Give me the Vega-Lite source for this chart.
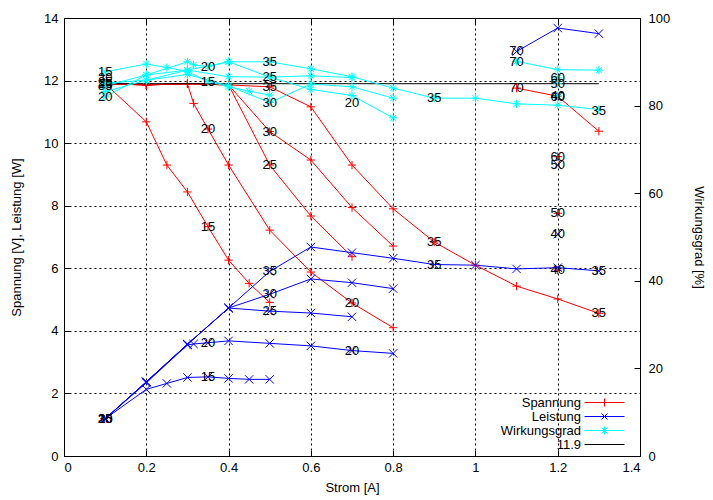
{
"$schema": "https://vega.github.io/schema/vega-lite/v6.json",
"width": 576, "height": 438,
"autosize": "none",
"padding": {"left": 64, "top": 18, "right": 73, "bottom": 44},
"config": {
  "font": "Liberation Sans",
  "view": {"stroke": "black", "strokeWidth": 1},
  "axis": {"labelFont": "Liberation Sans", "labelFontSize": 13, "labelColor": "black", "titleFont": "Liberation Sans", "titleFontSize": 13, "titleFontWeight": "normal", "titleColor": "black", "domain": false, "tickColor": "black", "tickSize": -6, "gridColor": "black", "gridDash": [2, 3], "gridOpacity": 1, "gridWidth": 1}
},
"datasets": {
  "vp": [
    {"s":"Spannung","r":"15","i":0.1,"v":11.9},{"s":"Spannung","r":"15","i":0.2,"v":10.68},{"s":"Spannung","r":"15","i":0.25,"v":9.3},{"s":"Spannung","r":"15","i":0.3,"v":8.44},{"s":"Spannung","r":"15","i":0.35,"v":7.33},{"s":"Spannung","r":"15","i":0.4,"v":6.26},{"s":"Spannung","r":"15","i":0.45,"v":5.52},{"s":"Spannung","r":"15","i":0.5,"v":4.91},
    {"s":"Spannung","r":"20","i":0.1,"v":11.9},{"s":"Spannung","r":"20","i":0.2,"v":11.86},{"s":"Spannung","r":"20","i":0.3,"v":11.9},{"s":"Spannung","r":"20","i":0.315,"v":11.27},{"s":"Spannung","r":"20","i":0.35,"v":10.45},{"s":"Spannung","r":"20","i":0.4,"v":9.3},{"s":"Spannung","r":"20","i":0.5,"v":7.22},{"s":"Spannung","r":"20","i":0.6,"v":5.88},{"s":"Spannung","r":"20","i":0.7,"v":4.89},{"s":"Spannung","r":"20","i":0.8,"v":4.1},
    {"s":"Spannung","r":"25","i":0.1,"v":11.9},{"s":"Spannung","r":"25","i":0.2,"v":11.86},{"s":"Spannung","r":"25","i":0.3,"v":11.9},{"s":"Spannung","r":"25","i":0.4,"v":11.86},{"s":"Spannung","r":"25","i":0.5,"v":9.3},{"s":"Spannung","r":"25","i":0.6,"v":7.67},{"s":"Spannung","r":"25","i":0.7,"v":6.37},
    {"s":"Spannung","r":"30","i":0.1,"v":11.9},{"s":"Spannung","r":"30","i":0.2,"v":11.86},{"s":"Spannung","r":"30","i":0.3,"v":11.9},{"s":"Spannung","r":"30","i":0.4,"v":11.86},{"s":"Spannung","r":"30","i":0.5,"v":10.37},{"s":"Spannung","r":"30","i":0.6,"v":9.46},{"s":"Spannung","r":"30","i":0.7,"v":7.94},{"s":"Spannung","r":"30","i":0.8,"v":6.71},
    {"s":"Spannung","r":"35","i":0.1,"v":11.9},{"s":"Spannung","r":"35","i":0.2,"v":11.86},{"s":"Spannung","r":"35","i":0.3,"v":11.9},{"s":"Spannung","r":"35","i":0.4,"v":11.86},{"s":"Spannung","r":"35","i":0.5,"v":11.8},{"s":"Spannung","r":"35","i":0.6,"v":11.16},{"s":"Spannung","r":"35","i":0.7,"v":9.3},{"s":"Spannung","r":"35","i":0.8,"v":7.9},{"s":"Spannung","r":"35","i":0.9,"v":6.84},{"s":"Spannung","r":"35","i":1.0,"v":6.1},{"s":"Spannung","r":"35","i":1.1,"v":5.43},{"s":"Spannung","r":"35","i":1.2,"v":5.02},{"s":"Spannung","r":"35","i":1.3,"v":4.56},
    {"s":"Spannung","r":"40","i":1.2,"v":5.94},
    {"s":"Spannung","r":"50","i":1.2,"v":7.76},
    {"s":"Spannung","r":"60","i":1.2,"v":9.57},
    {"s":"Spannung","r":"70","i":1.1,"v":11.76},{"s":"Spannung","r":"70","i":1.2,"v":11.5},{"s":"Spannung","r":"70","i":1.3,"v":10.38},
    {"s":"Leistung","r":"15","i":0.1,"v":1.19},{"s":"Leistung","r":"15","i":0.2,"v":2.13},{"s":"Leistung","r":"15","i":0.25,"v":2.32},{"s":"Leistung","r":"15","i":0.3,"v":2.51},{"s":"Leistung","r":"15","i":0.35,"v":2.53},{"s":"Leistung","r":"15","i":0.4,"v":2.48},{"s":"Leistung","r":"15","i":0.45,"v":2.45},{"s":"Leistung","r":"15","i":0.5,"v":2.45},
    {"s":"Leistung","r":"20","i":0.1,"v":1.19},{"s":"Leistung","r":"20","i":0.2,"v":2.34},{"s":"Leistung","r":"20","i":0.3,"v":3.55},{"s":"Leistung","r":"20","i":0.315,"v":3.58},{"s":"Leistung","r":"20","i":0.35,"v":3.62},{"s":"Leistung","r":"20","i":0.4,"v":3.68},{"s":"Leistung","r":"20","i":0.5,"v":3.6},{"s":"Leistung","r":"20","i":0.6,"v":3.52},{"s":"Leistung","r":"20","i":0.7,"v":3.37},{"s":"Leistung","r":"20","i":0.8,"v":3.28},
    {"s":"Leistung","r":"25","i":0.1,"v":1.19},{"s":"Leistung","r":"25","i":0.2,"v":2.37},{"s":"Leistung","r":"25","i":0.3,"v":3.57},{"s":"Leistung","r":"25","i":0.4,"v":4.73},{"s":"Leistung","r":"25","i":0.5,"v":4.63},{"s":"Leistung","r":"25","i":0.6,"v":4.57},{"s":"Leistung","r":"25","i":0.7,"v":4.45},
    {"s":"Leistung","r":"30","i":0.1,"v":1.19},{"s":"Leistung","r":"30","i":0.2,"v":2.37},{"s":"Leistung","r":"30","i":0.3,"v":3.57},{"s":"Leistung","r":"30","i":0.4,"v":4.73},{"s":"Leistung","r":"30","i":0.5,"v":5.17},{"s":"Leistung","r":"30","i":0.6,"v":5.66},{"s":"Leistung","r":"30","i":0.7,"v":5.54},{"s":"Leistung","r":"30","i":0.8,"v":5.35},
    {"s":"Leistung","r":"35","i":0.1,"v":1.19},{"s":"Leistung","r":"35","i":0.2,"v":2.37},{"s":"Leistung","r":"35","i":0.3,"v":3.57},{"s":"Leistung","r":"35","i":0.4,"v":4.73},{"s":"Leistung","r":"35","i":0.5,"v":5.9},{"s":"Leistung","r":"35","i":0.6,"v":6.68},{"s":"Leistung","r":"35","i":0.7,"v":6.5},{"s":"Leistung","r":"35","i":0.8,"v":6.32},{"s":"Leistung","r":"35","i":0.9,"v":6.12},{"s":"Leistung","r":"35","i":1.0,"v":6.1},{"s":"Leistung","r":"35","i":1.1,"v":5.98},{"s":"Leistung","r":"35","i":1.2,"v":6.02},{"s":"Leistung","r":"35","i":1.3,"v":5.92},
    {"s":"Leistung","r":"40","i":1.2,"v":7.09},
    {"s":"Leistung","r":"50","i":1.2,"v":9.3},
    {"s":"Leistung","r":"60","i":1.2,"v":11.48},
    {"s":"Leistung","r":"70","i":1.1,"v":12.93},{"s":"Leistung","r":"70","i":1.2,"v":13.68},{"s":"Leistung","r":"70","i":1.3,"v":13.5}
  ],
  "eff": [
    {"s":"Wirkungsgrad","r":"15","i":0.1,"v":87.7},{"s":"Wirkungsgrad","r":"15","i":0.2,"v":89.5},{"s":"Wirkungsgrad","r":"15","i":0.25,"v":88.7},{"s":"Wirkungsgrad","r":"15","i":0.3,"v":87.8},{"s":"Wirkungsgrad","r":"15","i":0.35,"v":85.5},{"s":"Wirkungsgrad","r":"15","i":0.4,"v":84.3},{"s":"Wirkungsgrad","r":"15","i":0.45,"v":83.3},{"s":"Wirkungsgrad","r":"15","i":0.5,"v":82.4},
    {"s":"Wirkungsgrad","r":"20","i":0.1,"v":82.0},{"s":"Wirkungsgrad","r":"20","i":0.2,"v":87.0},{"s":"Wirkungsgrad","r":"20","i":0.3,"v":90.0},{"s":"Wirkungsgrad","r":"20","i":0.315,"v":89.3},{"s":"Wirkungsgrad","r":"20","i":0.35,"v":88.9},{"s":"Wirkungsgrad","r":"20","i":0.4,"v":90.0},{"s":"Wirkungsgrad","r":"20","i":0.5,"v":86.5},{"s":"Wirkungsgrad","r":"20","i":0.6,"v":83.7},{"s":"Wirkungsgrad","r":"20","i":0.7,"v":82.3},{"s":"Wirkungsgrad","r":"20","i":0.8,"v":77.2},
    {"s":"Wirkungsgrad","r":"25","i":0.1,"v":85.1},{"s":"Wirkungsgrad","r":"25","i":0.2,"v":85.8},{"s":"Wirkungsgrad","r":"25","i":0.3,"v":88.1},{"s":"Wirkungsgrad","r":"25","i":0.4,"v":86.6},{"s":"Wirkungsgrad","r":"25","i":0.5,"v":86.5},{"s":"Wirkungsgrad","r":"25","i":0.6,"v":86.8},{"s":"Wirkungsgrad","r":"25","i":0.7,"v":86.4},
    {"s":"Wirkungsgrad","r":"30","i":0.1,"v":83.2},{"s":"Wirkungsgrad","r":"30","i":0.2,"v":85.8},{"s":"Wirkungsgrad","r":"30","i":0.3,"v":87.1},{"s":"Wirkungsgrad","r":"30","i":0.4,"v":84.5},{"s":"Wirkungsgrad","r":"30","i":0.5,"v":80.7},{"s":"Wirkungsgrad","r":"30","i":0.6,"v":84.9},{"s":"Wirkungsgrad","r":"30","i":0.7,"v":84.3},{"s":"Wirkungsgrad","r":"30","i":0.8,"v":81.7},
    {"s":"Wirkungsgrad","r":"35","i":0.1,"v":84.5},{"s":"Wirkungsgrad","r":"35","i":0.2,"v":87.0},{"s":"Wirkungsgrad","r":"35","i":0.3,"v":88.1},{"s":"Wirkungsgrad","r":"35","i":0.4,"v":90.0},{"s":"Wirkungsgrad","r":"35","i":0.5,"v":90.0},{"s":"Wirkungsgrad","r":"35","i":0.6,"v":88.4},{"s":"Wirkungsgrad","r":"35","i":0.7,"v":86.6},{"s":"Wirkungsgrad","r":"35","i":0.8,"v":84.0},{"s":"Wirkungsgrad","r":"35","i":0.9,"v":81.7},{"s":"Wirkungsgrad","r":"35","i":1.0,"v":81.7},{"s":"Wirkungsgrad","r":"35","i":1.1,"v":80.4},{"s":"Wirkungsgrad","r":"35","i":1.2,"v":80.1},{"s":"Wirkungsgrad","r":"35","i":1.3,"v":79.1},
    {"s":"Wirkungsgrad","r":"40","i":1.2,"v":82.2},
    {"s":"Wirkungsgrad","r":"50","i":1.2,"v":85.0},
    {"s":"Wirkungsgrad","r":"60","i":1.2,"v":86.3},
    {"s":"Wirkungsgrad","r":"70","i":1.1,"v":90.1},{"s":"Wirkungsgrad","r":"70","i":1.2,"v":88.2},{"s":"Wirkungsgrad","r":"70","i":1.3,"v":88.1}
  ],
  "labL": [
    {"t":"15","i":0.1,"v":11.9},{"t":"20","i":0.1,"v":11.9},{"t":"25","i":0.1,"v":11.9},{"t":"30","i":0.1,"v":11.9},{"t":"35","i":0.1,"v":11.9},
    {"t":"15","i":0.35,"v":7.33},{"t":"20","i":0.35,"v":10.45},{"t":"20","i":0.7,"v":4.89},{"t":"25","i":0.5,"v":9.3},{"t":"30","i":0.5,"v":10.37},{"t":"35","i":0.5,"v":11.8},{"t":"35","i":0.9,"v":6.84},{"t":"35","i":1.3,"v":4.56},{"t":"40","i":1.2,"v":5.94},{"t":"50","i":1.2,"v":7.76},{"t":"60","i":1.2,"v":9.57},{"t":"70","i":1.1,"v":11.76},
    {"t":"15","i":0.1,"v":1.19},{"t":"20","i":0.1,"v":1.19},{"t":"25","i":0.1,"v":1.19},{"t":"30","i":0.1,"v":1.19},{"t":"35","i":0.1,"v":1.19},
    {"t":"15","i":0.35,"v":2.51},{"t":"20","i":0.35,"v":3.62},{"t":"20","i":0.7,"v":3.37},{"t":"25","i":0.5,"v":4.63},{"t":"30","i":0.5,"v":5.17},{"t":"35","i":0.5,"v":5.9},{"t":"35","i":0.9,"v":6.12},{"t":"35","i":1.3,"v":5.92},{"t":"40","i":1.2,"v":7.09},{"t":"50","i":1.2,"v":9.3},{"t":"60","i":1.2,"v":11.48},{"t":"70","i":1.1,"v":12.93}
  ],
  "labR": [
    {"t":"15","i":0.1,"v":87.7},{"t":"20","i":0.1,"v":82.0},{"t":"25","i":0.1,"v":85.5},{"t":"30","i":0.1,"v":86.3},{"t":"35","i":0.1,"v":84.5},
    {"t":"15","i":0.35,"v":85.5},{"t":"20","i":0.35,"v":88.9},{"t":"20","i":0.7,"v":80.7},{"t":"25","i":0.5,"v":86.5},{"t":"30","i":0.5,"v":80.7},{"t":"35","i":0.5,"v":90.0},{"t":"35","i":0.9,"v":81.7},{"t":"35","i":1.3,"v":78.8},{"t":"40","i":1.2,"v":82.2},{"t":"50","i":1.2,"v":85.0},{"t":"60","i":1.2,"v":86.3},{"t":"70","i":1.1,"v":90.0}
  ],
  "ref": [{"s":"11.9","i":0.1,"i2":1.3,"v":11.9}]
},
"layer": [
  {
    "layer": [
      {
        "data": {"name": "vp"},
        "mark": {"type": "line", "strokeWidth": 1},
        "encoding": {
          "x": {"field": "i", "type": "quantitative", "scale": {"domain": [0, 1.4], "nice": false, "zero": false},
                "axis": {"values": [0, 0.2, 0.4, 0.6, 0.8, 1.0, 1.2, 1.4], "format": "~g", "grid": true, "title": "Strom [A]", "labelPadding": 11, "titlePadding": 7}},
          "y": {"field": "v", "type": "quantitative", "scale": {"domain": [0, 14], "nice": false},
                "axis": {"values": [0, 2, 4, 6, 8, 10, 12, 14], "grid": true, "title": "Spannung [V], Leistung [W]", "labelPadding": 12, "titlePadding": 20}},
          "color": {"field": "s", "type": "nominal",
                    "scale": {"domain": ["Spannung", "Leistung", "Wirkungsgrad", "11.9"], "range": ["#ff0000", "#0000ff", "#00ffff", "#000000"]},
                    "legend": {"title": null, "orient": "none", "legendX": 534, "legendY": 378, "direction": "vertical",
                               "labelFont": "Liberation Sans", "labelFontSize": 13, "labelColor": "black",
                               "labelAlign": "right", "labelOffset": -30, "symbolSize": 100, "rowPadding": -1,
                               "symbolStrokeWidth": 1, "symbolFillColor": "transparent",
                               "encode": {"symbols": {"update": {"shape": {"signal": "datum.value === 'Spannung' ? 'M-4,0L4,0M0,-0.8L0,0.8' : datum.value === 'Leistung' ? 'M-4,0L4,0M-0.6,-0.6L0.6,0.6M-0.6,0.6L0.6,-0.6' : datum.value === 'Wirkungsgrad' ? 'M-4,0L4,0M0,-0.8L0,0.8M-0.6,-0.6L0.6,0.6M-0.6,0.6L0.6,-0.6' : 'M-4,0L4,0'"}, "fill": {"value": "transparent"}}}}}},
          "detail": {"field": "r"}
        }
      },
      {
        "data": {"name": "vp"},
        "mark": {"type": "point", "filled": false, "strokeWidth": 1, "opacity": 1},
        "encoding": {
          "x": {"field": "i", "type": "quantitative"},
          "y": {"field": "v", "type": "quantitative"},
          "color": {"field": "s", "type": "nominal"},
          "shape": {"field": "s", "type": "nominal", "legend": null,
                    "scale": {"domain": ["Spannung", "Leistung"], "range": ["M-1,0L1,0M0,-1L0,1", "M-1,-1L1,1M-1,1L1,-1"]}},
          "size": {"value": 70}
        }
      },
      {
        "data": {"name": "ref"},
        "mark": {"type": "rule", "strokeWidth": 1},
        "encoding": {
          "x": {"field": "i", "type": "quantitative"},
          "x2": {"field": "i2"},
          "y": {"field": "v", "type": "quantitative"},
          "color": {"field": "s", "type": "nominal"}
        }
      },
      {
        "data": {"name": "labL"},
        "mark": {"type": "text", "font": "Liberation Sans", "fontSize": 13, "color": "black", "align": "center", "baseline": "middle"},
        "encoding": {
          "x": {"field": "i", "type": "quantitative"},
          "y": {"field": "v", "type": "quantitative"},
          "text": {"field": "t"}
        }
      }
    ]
  },
  {
    "layer": [
      {
        "data": {"name": "eff"},
        "mark": {"type": "line", "strokeWidth": 1},
        "encoding": {
          "x": {"field": "i", "type": "quantitative", "axis": {"orient": "top", "values": [0, 0.2, 0.4, 0.6, 0.8, 1.0, 1.2, 1.4], "labels": false, "grid": false, "title": null}},
          "y": {"field": "v", "type": "quantitative", "scale": {"domain": [0, 100], "nice": false},
                "axis": {"orient": "right", "values": [0, 20, 40, 60, 80, 100], "grid": false, "title": "Wirkungsgrad [%]", "labelPadding": 14, "titlePadding": 22}},
          "color": {"field": "s", "type": "nominal"},
          "detail": {"field": "r"}
        }
      },
      {
        "data": {"name": "eff"},
        "mark": {"type": "point", "filled": false, "strokeWidth": 1, "opacity": 1, "shape": "M-1,0L1,0M0,-1L0,1M-0.7,-0.7L0.7,0.7M-0.7,0.7L0.7,-0.7"},
        "encoding": {
          "x": {"field": "i", "type": "quantitative"},
          "y": {"field": "v", "type": "quantitative"},
          "color": {"field": "s", "type": "nominal"},
          "size": {"value": 70}
        }
      },
      {
        "data": {"name": "labR"},
        "mark": {"type": "text", "font": "Liberation Sans", "fontSize": 13, "color": "black", "align": "center", "baseline": "middle"},
        "encoding": {
          "x": {"field": "i", "type": "quantitative"},
          "y": {"field": "v", "type": "quantitative"},
          "text": {"field": "t"}
        }
      }
    ]
  }
],
"resolve": {"scale": {"y": "independent"}, "axis": {"x": "independent"}}
}
